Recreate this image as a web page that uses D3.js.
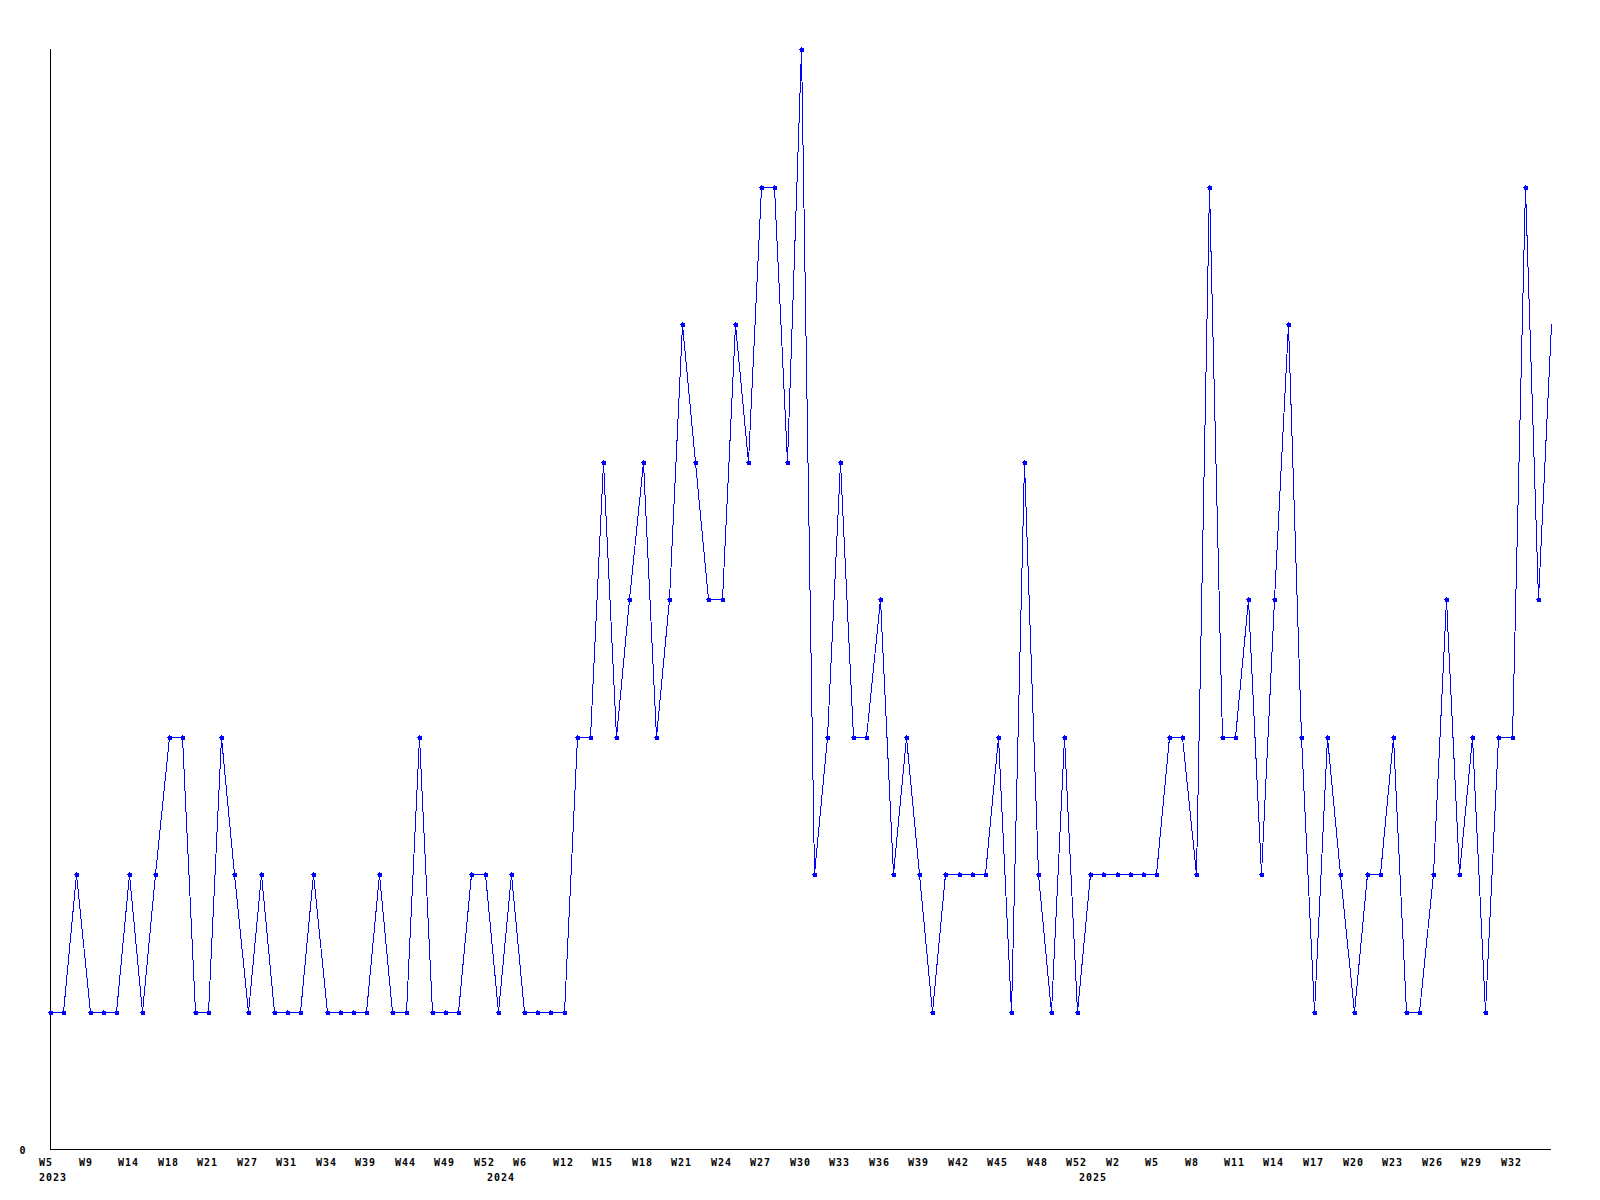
<!DOCTYPE html>
<html>
<head>
<meta charset="utf-8">
<script src="https://cdn.jsdelivr.net/npm/d3@7"></script>
<style>
  html, body { margin: 0; padding: 0; background: #fff; }
  svg { display: block; }
  text { font-family: "DejaVu Sans Mono", "Liberation Mono", monospace; font-weight: bold; font-size: 10px; letter-spacing: 1px; fill: #000; }
</style>
</head>
<body>
<svg id="chart" width="1600" height="1200"></svg>
<script>
// ---- data ----
const values = [
  1,1,2,1,1,1,2,1,2,3,
  3,1,1,3,2,1,2,1,1,1,
  2,1,1,1,1,2,1,1,3,1,
  1,1,2,2,1,2,1,1,1,1,
  3,3,5,3,4,5,3,4,6,5,
  4,4,6,5,7,7,5,8,2,3,
  5,3,3,4,2,3,2,1,2,2,
  2,2,3,1,5,2,1,3,1,2,
  2,2,2,2,2,3,3,2,7,3,
  3,4,2,4,6,3,1,3,2,1,
  2,2,3,1,1,2,4,2,3,1,
  3,3,7,4,6
];
const categories = values.map((_, i) => i);
const tickEvery = 3;
const tickLabels = ["W5","W9","W14","W18","W21","W27","W31","W34","W39","W44","W49","W52",
  "W6","W12","W15","W18","W21","W24","W27","W30","W33","W36","W39","W42","W45","W48","W52",
  "W2","W5","W8","W11","W14","W17","W20","W23","W26","W29","W32"];
const yearLabels = ["2023","2024","2025"];
const yearStarts = [0, 34, 79];
const yMax = 8;

(function () {
  const svg = d3.select("#chart");
  const plotLeft = 50, plotRight = 1551, plotTop = 49, plotBottom = 1149;

  const x = d3.scaleLinear().domain([0, categories.length - 1]).range([plotLeft, plotRight]);
  const y = d3.scaleLinear().domain([0, yMax]).range([plotBottom, plotTop]);

  // axes lines
  svg.append("line")
    .attr("x1", plotLeft + 0.5).attr("x2", plotLeft + 0.5)
    .attr("y1", y(yMax)).attr("y2", y(0) + 1)
    .attr("stroke", "#000").attr("shape-rendering", "crispEdges");
  svg.append("line")
    .attr("x1", plotLeft).attr("x2", plotRight)
    .attr("y1", y(0) + 0.5).attr("y2", y(0) + 0.5)
    .attr("stroke", "#000").attr("shape-rendering", "crispEdges");

  // y label 0
  svg.append("text").attr("x", 19.5).attr("y", 1154).text("0");

  // x tick labels
  svg.append("g").selectAll("text")
    .data(tickLabels)
    .join("text")
    .attr("x", (d, i) => Math.round(x(i * tickEvery)) - 11)
    .attr("y", 1166)
    .text(d => d);

  svg.append("g").selectAll("text")
    .data(yearLabels)
    .join("text")
    .attr("x", (d, i) => Math.round(x(yearStarts[i])) - 11)
    .attr("y", 1181)
    .text(d => d);

  // line
  const line = d3.line()
    .x((d, i) => Math.round(x(i)) + 0.5)
    .y(d => Math.round(y(d)) + 0.5);

  svg.append("path")
    .datum(values)
    .attr("d", line)
    .attr("fill", "none")
    .attr("stroke", "#0000ff")
    .attr("stroke-width", 1)
    .attr("shape-rendering", "crispEdges");

  // markers (all but the last point)
  svg.append("g").selectAll("path")
    .data(values.slice(0, -1))
    .join("path")
    .attr("transform", (d, i) => `translate(${Math.round(x(i)) + 0.5},${Math.round(y(d)) + 0.5})`)
    .attr("d", "M-2.5,0H2.5M0,-2.5V2.5M-1.5,-1.5H1.5V1.5H-1.5Z")
    .attr("fill", "#0000ff")
    .attr("stroke", "#0000ff")
    .attr("stroke-width", 1)
    .attr("shape-rendering", "crispEdges");
})();
</script>
</body>
</html>
